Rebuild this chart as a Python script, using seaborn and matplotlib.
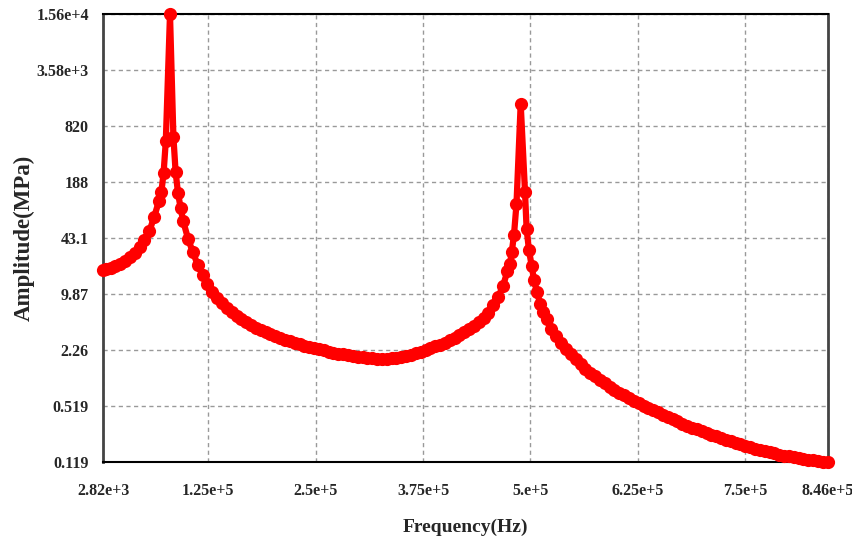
import matplotlib
matplotlib.use("Agg")
import matplotlib.pyplot as plt
from matplotlib.ticker import NullLocator
import seaborn as sns
import pandas as pd

# Frequency response
freq_hz = [
    2820, 5640, 11280, 16920, 22560, 28200, 33840, 39480, 45120, 50760,
    56400, 62040, 67680, 70450, 73010, 75570, 80460, 84420, 86980, 89770,
    92800, 95880, 101520, 107160, 112800, 118440, 124080, 129720, 135360, 141000,
    146640, 152280, 157920, 163560, 169200, 174840, 180480, 186120, 191760, 197400,
    203040, 208680, 214320, 219960, 225600, 231240, 236880, 242520, 248160, 253800,
    259440, 265080, 270720, 276360, 282000, 287640, 293280, 298920, 304560, 310200,
    315840, 321480, 327120, 332760, 338400, 344040, 349680, 355320, 360960, 366600,
    372240, 377880, 383520, 389160, 394800, 400440, 406080, 411720, 417360, 423000,
    428640, 434280, 439920, 445560, 451200, 456840, 462480, 468120, 473310, 476220,
    478310, 480870, 483790, 488670, 493680, 495540, 498340, 501480, 504160, 507650,
    511490, 515210, 518880, 524520, 530160, 535800, 541440, 547080, 552720, 558360,
    564000, 569640, 575280, 580920, 586560, 592200, 597840, 603480, 609120, 614760,
    620400, 626040, 631680, 637320, 642960, 648600, 654240, 659880, 665520, 671160,
    676800, 682440, 688080, 693720, 699360, 705000, 710640, 716280, 721920, 727560,
    733200, 738840, 744480, 750120, 755760, 761400, 767040, 772680, 778320, 783960,
    789600, 795240, 800880, 806520, 812160, 817800, 823440, 829080, 834720, 840360,
    846000,
]
amplitude_mpa = [
    18.77, 19.02, 19.63, 20.58, 21.87, 23.60, 26.09, 29.36, 33.94, 40.80,
    51.70, 75.74, 115.4, 146.2, 241.1, 552.5, 15600, 621.9, 247.5, 142.4,
    96.0, 67.3, 42.44, 29.75, 21.41, 16.46, 12.99, 10.52, 8.98, 7.77,
    6.91, 6.22, 5.59, 5.10, 4.71, 4.39, 4.10, 3.85, 3.63, 3.45,
    3.28, 3.13, 2.99, 2.87, 2.75, 2.65, 2.56, 2.47, 2.39, 2.32,
    2.26, 2.19, 2.13, 2.08, 2.03, 1.99, 1.95, 1.92, 1.89, 1.86,
    1.84, 1.82, 1.82, 1.82, 1.84, 1.86, 1.90, 1.95, 2.01, 2.09,
    2.17, 2.27, 2.38, 2.52, 2.61, 2.76, 2.94, 3.14, 3.37, 3.64,
    3.92, 4.24, 4.74, 5.31, 6.05, 7.37, 9.22, 12.32, 18.29, 21.99,
    30.15, 47.16, 106.6, 1482, 147.4, 55.23, 31.36, 20.85, 14.43, 10.38,
    7.67, 6.13, 5.10, 3.97, 3.26, 2.742, 2.372, 2.058, 1.790, 1.565,
    1.394, 1.258, 1.141, 1.038, 0.947, 0.870, 0.802, 0.739, 0.690, 0.646,
    0.604, 0.565, 0.529, 0.494, 0.466, 0.441, 0.417, 0.393, 0.370, 0.349,
    0.330, 0.313, 0.297, 0.283, 0.270, 0.257, 0.245, 0.235, 0.225, 0.216,
    0.207, 0.199, 0.191, 0.184, 0.177, 0.171, 0.165, 0.159, 0.154, 0.150,
    0.146, 0.142, 0.139, 0.135, 0.133, 0.130, 0.128, 0.125, 0.123, 0.121,
    0.119,
]

# Axis ticks and their labels as printed on the chart
x_ticks = [2820, 125000, 250000, 375000, 500000, 625000, 750000, 846000]
x_tick_labels = ["2.82e+3", "1.25e+5", "2.5e+5", "3.75e+5", "5.e+5", "6.25e+5", "7.5e+5", "8.46e+5"]
y_ticks = [0.119, 0.519, 2.26, 9.87, 43.1, 188, 820, 3580, 15600]
y_tick_labels = ["0.119", "0.519", "2.26", "9.87", "43.1", "188", "820", "3.58e+3", "1.56e+4"]

sns.set_style("white")
plt.rcParams['font.family'] = ['Liberation Serif', 'DejaVu Serif']
plt.rcParams['font.weight'] = 'bold'

fig = plt.figure(figsize=(8.53, 5.40), dpi=100)
ax = fig.add_axes([0.1211, 0.1439, 0.8492, 0.8296])

df = pd.DataFrame({"Frequency": freq_hz, "Amplitude": amplitude_mpa})
sns.lineplot(data=df, x="Frequency", y="Amplitude", ax=ax, color="#ff0000",
             linewidth=4.5, marker="o", markersize=9.5, markeredgewidth=0,
             solid_joinstyle="round", solid_capstyle="round",
             clip_on=False, zorder=3)

ax.set_yscale("log")
ax.set_xlim(2820, 846000)
ax.set_ylim(0.119, 15600)
ax.set_xticks(x_ticks, x_tick_labels)
ax.set_yticks(y_ticks, y_tick_labels)
ax.yaxis.set_minor_locator(NullLocator())
ax.xaxis.set_minor_locator(NullLocator())

# Dashed grey grid at every tick
ax.grid(True, linestyle=(0, (3, 2.5)), color="#999999", linewidth=1)

ax.tick_params(axis="y", direction="out", length=8, width=1.5, color="#999999",
               labelsize=11.5, pad=2.5)
ax.tick_params(axis="x", direction="out", length=7, width=1.5, color="#999999",
               labelsize=11.5, pad=8)

for side in ["left", "right"]:
    ax.spines[side].set_color("#444444")
    ax.spines[side].set_linewidth(2)
for side in ["top", "bottom"]:
    ax.spines[side].set_color("#000000")
    ax.spines[side].set_linewidth(1.5)

ax.set_xlabel("Frequency(Hz)", fontsize=14, fontweight="bold", labelpad=14)
ax.set_ylabel("Amplitude(MPa)", fontsize=16.5, fontweight="bold", labelpad=1)

fig.savefig("out.png", dpi=100)
